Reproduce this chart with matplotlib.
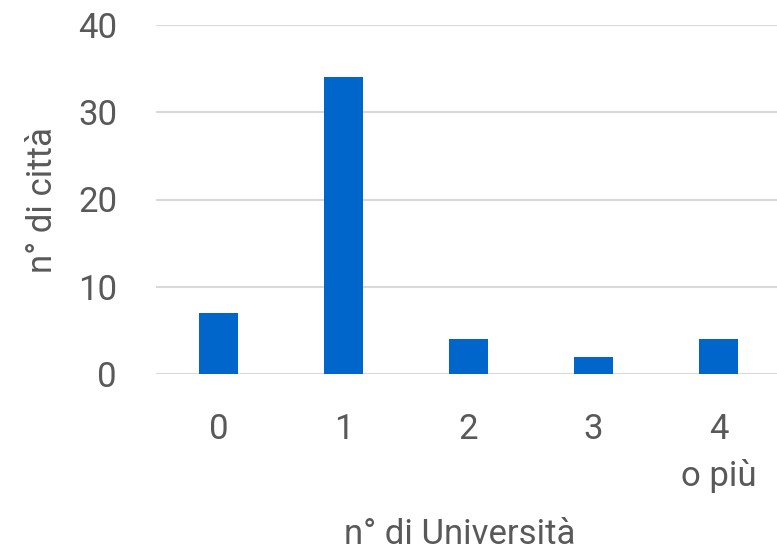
import matplotlib.pyplot as plt

categories = ['0', '1', '2', '3', '4\no più']
counts = [7, 34, 4, 2, 4]
yticks = [0, 10, 20, 30, 40]

TEXT = '#595959'
BLUE = '#0066CC'

plt.rcParams['font.family'] = ['Roboto', 'DejaVu Sans']

fig = plt.figure(figsize=(7.77, 5.54), dpi=100)
ax = fig.add_axes([156 / 777, 1 - 374 / 554, 625 / 777, 349 / 554])

x = range(len(categories))
ax.bar(x, counts, width=0.31, color=BLUE, zorder=3)

ax.set_xlim(-0.5, 4.5)
ax.set_ylim(0, 40)
ax.set_yticks(yticks)
ax.set_xticks(list(x))
ax.set_xticklabels(categories, linespacing=1.5)

ax.grid(axis='y', color='#D9D9D9', linewidth=1.5, zorder=0)
for s in ax.spines.values():
    s.set_visible(False)
ax.tick_params(length=0, labelsize=25, colors=TEXT)
ax.tick_params(axis='x', pad=28)
ax.tick_params(axis='y', pad=28)

fig.text(460 / 777, 1 - 535 / 554, 'n° di Università', ha='center', va='center',
         fontsize=25, color=TEXT)
fig.text(42 / 777, 1 - 200 / 554, 'n° di città', ha='center', va='center',
         rotation=90, fontsize=25, color=TEXT)

fig.savefig('out.png', dpi=100)
